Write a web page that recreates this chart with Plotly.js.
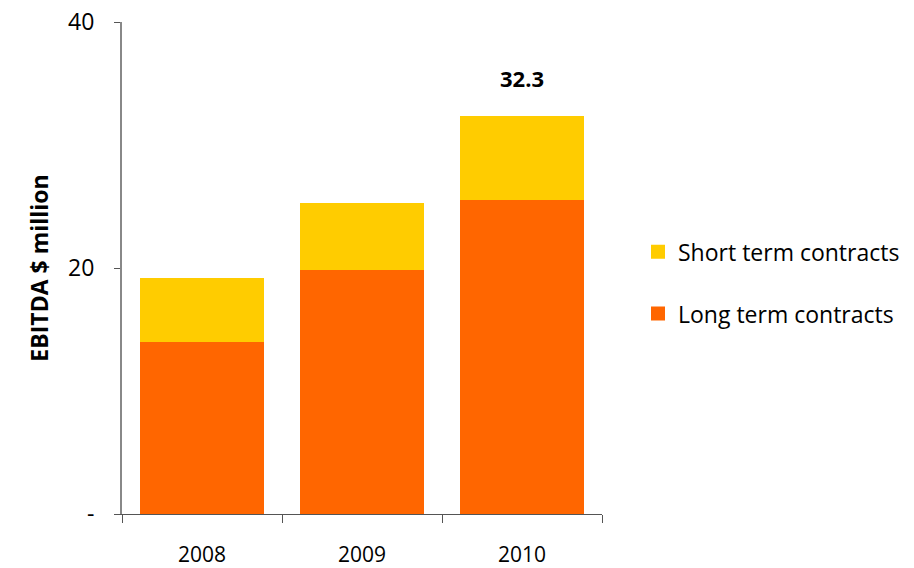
<!DOCTYPE html>
<html>
<head>
<meta charset="utf-8">
<script src="https://cdn.plot.ly/plotly-3.0.1.min.js"></script>
<style>html,body{margin:0;padding:0;background:#fff;}#chart{width:914px;height:568px;}</style>
</head>
<body>
<div id="chart"></div>
<script>
var years = ['2008', '2009', '2010'];
var longTerm = [14.1, 19.9, 25.6];
var shortTerm = [5.0, 5.3, 6.7];
var totalLabel = '32.3';
var yTickVals = [0, 20, 40];
var yTickText = ['-', '20', '40'];

var font = "'Open Sans', 'Noto Sans', sans-serif";
var totals = years.map(function (y, i) { return longTerm[i] + shortTerm[i]; });
var lastIdx = years.length - 1;

var traces = [
  {type: 'bar', name: 'Long term contracts', x: years, y: longTerm,
   marker: {color: '#FF6600', line: {color: '#FF6600', width: 2}},
   legendgroup: 'long', legendrank: 2, hoverinfo: 'skip'},
  {type: 'bar', name: 'Short term contracts', x: years, y: shortTerm,
   marker: {color: '#FFCC00', line: {color: '#FFCC00', width: 2}},
   legendgroup: 'short', legendrank: 1, hoverinfo: 'skip'}
];

var layout = {
  width: 914, height: 568,
  margin: {l: 122, r: 312, t: 22, b: 54, autoexpand: false},
  barmode: 'stack',
  bargap: 0.24,
  paper_bgcolor: '#fff', plot_bgcolor: '#fff',
  font: {family: font, color: '#000'},
  showlegend: true,
  legend: {x: 1.075, xanchor: 'left', y: 0.47, yanchor: 'middle',
           traceorder: 'grouped', tracegroupgap: 29,
           font: {size: 23, family: font, color: '#000'}, itemwidth: 30},
  xaxis: {type: 'category', range: [-0.5, 2.5], showline: true, linecolor: '#555', linewidth: 1,
          ticks: 'outside', tickson: 'boundaries', ticklen: 8, tickcolor: '#555',
          tickfont: {size: 21, family: font, color: '#000'}, showgrid: false, zeroline: false,
          ticklabelstandoff: 22},
  yaxis: {range: [0, 40], tickvals: yTickVals, ticktext: yTickText, showline: true,
          linecolor: '#888', linewidth: 2, ticks: 'outside', ticklen: 6, tickcolor: '#555',
          showgrid: false, zeroline: false,
          tickfont: {size: 23, family: font, color: '#000'}, ticklabelstandoff: 15,
          title: {text: '<b>EBITDA $ million</b>', font: {size: 23, family: font, color: '#000'}, standoff: 13}},
  annotations: [
    {x: lastIdx, y: totals[lastIdx], xref: 'x', yref: 'y', text: '<b>' + totalLabel + '</b>',
     showarrow: false, yanchor: 'bottom', yshift: 22, font: {size: 22, family: font, color: '#000'}}
  ]
};

Plotly.newPlot('chart', traces, layout, {displayModeBar: false, staticPlot: true});
</script>
</body>
</html>
